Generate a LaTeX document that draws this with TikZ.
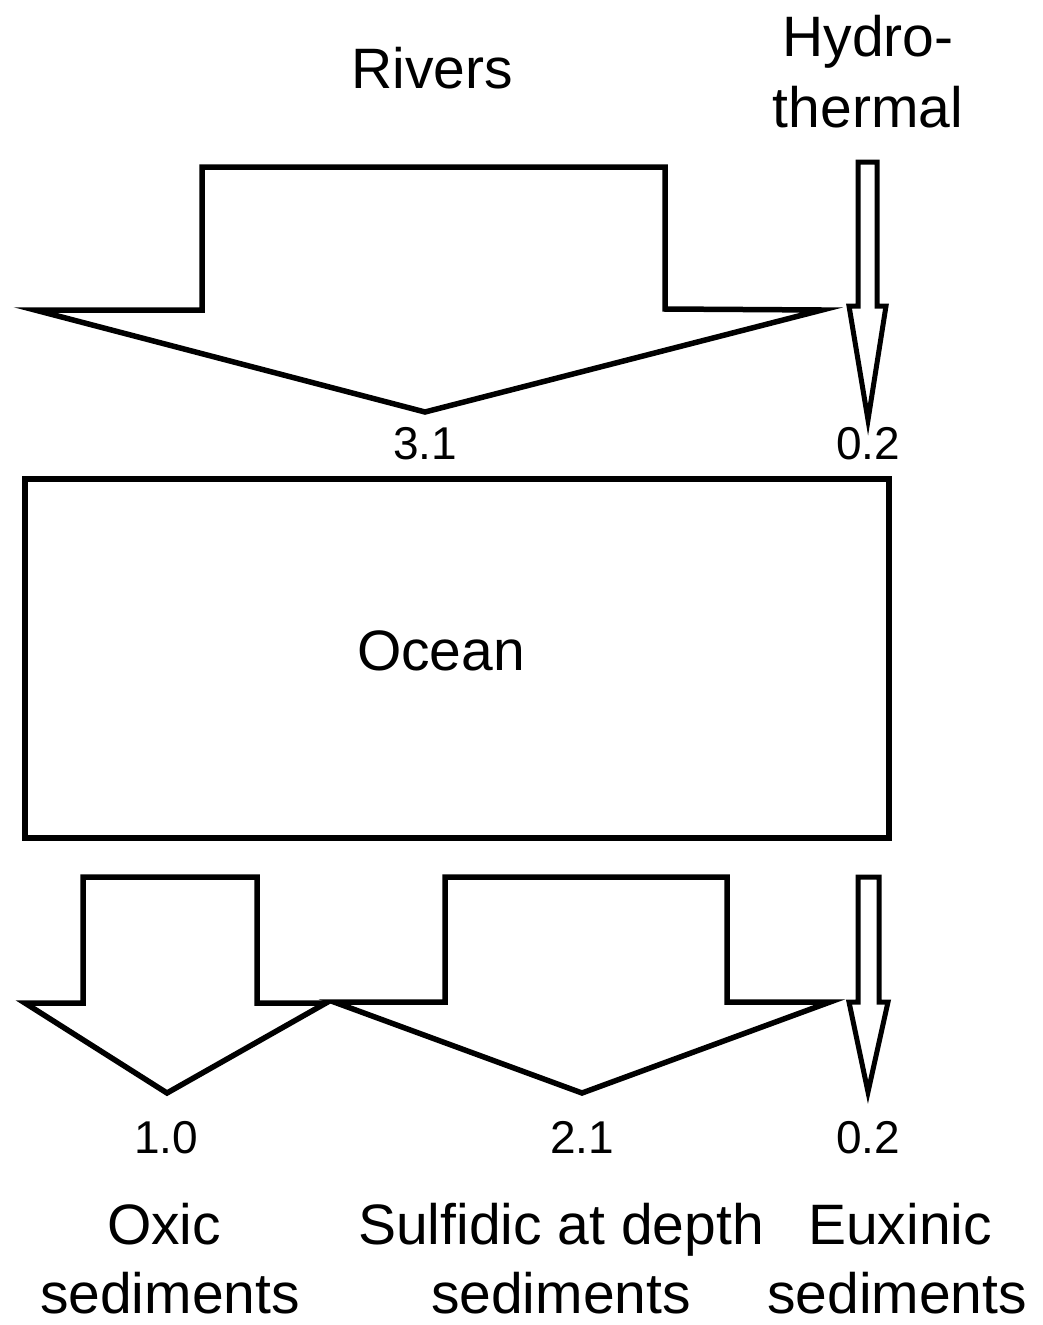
\documentclass[tikz,border=0pt]{standalone}
\usepackage{fontspec}
\setmainfont{Liberation Sans}
\begin{document}
\begin{tikzpicture}[x=1pt,y=-1pt,
  flow/.style={draw=black,line width=5.5pt,line join=miter,miter limit=30,fill=white},
  big/.style={font=\fontsize{57}{72}\selectfont,inner sep=0pt,anchor=base},
  num/.style={font=\fontsize{46}{55}\selectfont,inner sep=0pt,anchor=base},
  boxstyle/.style={draw=black,line width=6pt,minimum width=864pt,minimum height=359pt,inner sep=0pt}]
\useasboundingbox[fill=white] (0,0) rectangle (1042,1325);
% rivers arrow
\draw[flow] (202,167) -- (665,167) -- (665,309) -- (822,310) -- (425,412) -- (35,310) -- (202,310) -- cycle;
% hydrothermal arrow
\draw[flow,line width=5pt] (858,162) -- (877,162) -- (877,306) -- (886,306) -- (868,420) -- (849,306) -- (858,306) -- cycle;
% ocean
\node[boxstyle] (ocean) at (457,658.5) {};
\node[big] (oceanlbl) at (441,670) {Ocean};
% bottom arrows
\draw[flow] (83,877) -- (257,877) -- (257,1003) -- (326,1003) -- (167,1093) -- (25,1003) -- (83,1003) -- cycle;
\draw[flow] (445,877) -- (727,877) -- (727,1002) -- (830,1002) -- (582,1093) -- (334,1002) -- (445,1002) -- cycle;
\draw[flow,line width=5pt] (858,877) -- (879,877) -- (879,1002) -- (888,1002) -- (868,1092) -- (849,1002) -- (858,1002) -- cycle;
% labels
\node[big] (rivers) at (432,88) {Rivers};
\node[big] (hydro1) at (868,56) {Hydro-};
\node[big] (hydro2) at (868,127) {thermal};
\node[num] (n31) at (425,459) {3.1};
\node[num] (n02a) at (868,459) {0.2};
\node[num] (n10) at (166,1153) {1.0};
\node[num] (n21) at (582,1153) {2.1};
\node[num] (n02b) at (868,1153) {0.2};
\node[big] (oxic1) at (164,1244) {Oxic};
\node[big] (oxic2) at (170,1313) {sediments};
\node[big] (sulf1) at (561,1244) {Sulfidic at depth};
\node[big] (sulf2) at (561,1313) {sediments};
\node[big] (eux1) at (900,1244) {Euxinic};
\node[big] (eux2) at (897,1313) {sediments};
\end{tikzpicture}
\end{document}
